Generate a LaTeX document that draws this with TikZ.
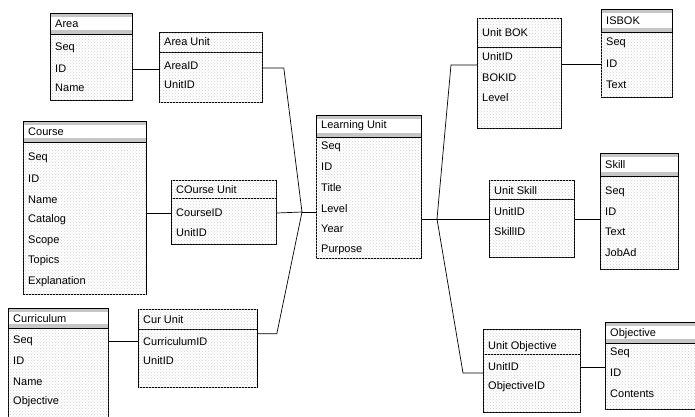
\documentclass[tikz,border=0pt]{standalone}
\usepackage{fontspec}
\setmainfont{Liberation Sans}
\usepackage{tikz}
\usetikzlibrary{calc, patterns}

\begin{document}
\begin{tikzpicture}[x=1pt,y=-1pt,font=\fontsize{11}{13}\selectfont]
  \tikzset{tbox/.style={draw,line width=0.8pt,anchor=north west,inner sep=0,
      fill=white,postaction={pattern=crosshatch dots,pattern color=gray!35}}}
  \tikzset{lhead/.style={tbox}}
  \tikzset{ehead/.style={draw,line width=0.8pt,anchor=north west,inner sep=0,fill=white,
      path picture={
        \fill[gray!45] (path picture bounding box.north west) rectangle ([yshift=-4pt]path picture bounding box.north east);
        \fill[gray!45] (path picture bounding box.south west) rectangle ([yshift=4pt]path picture bounding box.south east);}}}
  \tikzset{row/.style={anchor=west,inner sep=0}}
  \tikzset{link/.style={line width=0.7pt}}
  \useasboundingbox (0,0) rectangle (695,416);
  % Area
  \node[tbox,minimum width=82,minimum height=87] (area) at (50,13) {};
  \node[ehead,minimum width=82,minimum height=21] (area-h) at (50,13) {};
  \node[row] (area-t) at (55,24) {Area};
  \node[row] (area-seq) at (55,48) {Seq};
  \node[row] (area-id) at (55,69) {ID};
  \node[row] (area-name) at (55,88) {Name};
  % Area Unit
  \node[tbox,minimum width=103,minimum height=70] (areau) at (159,32) {};
  \node[lhead,minimum width=103,minimum height=20] (areau-h) at (159,32) {};
  \node[row] (areau-t) at (164,42) {Area Unit};
  \node[row] (areau-aid) at (164,66) {AreaID};
  \node[row] (areau-uid) at (164,85) {UnitID};
  % Course
  \node[tbox,minimum width=123,minimum height=173] (course) at (23,121) {};
  \node[ehead,minimum width=123,minimum height=21] (course-h) at (23,121) {};
  \node[row] (course-t) at (28,132) {Course};
  \node[row] (course-seq) at (28,158) {Seq};
  \node[row] (course-id) at (28,179) {ID};
  \node[row] (course-name) at (28,200) {Name};
  \node[row] (course-cat) at (28,220) {Catalog};
  \node[row] (course-scope) at (28,241) {Scope};
  \node[row] (course-top) at (28,261) {Topics};
  \node[row] (course-exp) at (28,282) {Explanation};
  % COurse Unit
  \node[tbox,minimum width=105,minimum height=64] (courseu) at (171,180) {};
  \node[lhead,minimum width=105,minimum height=18] (courseu-h) at (171,180) {};
  \node[row] (courseu-t) at (176,190) {COurse Unit};
  \node[row] (courseu-cid) at (176,213) {CourseID};
  \node[row] (courseu-uid) at (176,233) {UnitID};
  % Curriculum
  \node[tbox,minimum width=100,minimum height=120] (cur) at (8,308) {};
  \node[ehead,minimum width=100,minimum height=20] (cur-h) at (8,308) {};
  \node[row] (cur-t) at (13,319) {Curriculum};
  \node[row] (cur-seq) at (13,341) {Seq};
  \node[row] (cur-id) at (13,361) {ID};
  \node[row] (cur-name) at (13,382) {Name};
  \node[row] (cur-obj) at (13,402) {Objective};
  % Cur Unit
  \node[tbox,minimum width=119,minimum height=78] (curu) at (138,309) {};
  \node[lhead,minimum width=119,minimum height=20] (curu-h) at (138,309) {};
  \node[row] (curu-t) at (143,320) {Cur Unit};
  \node[row] (curu-cid) at (143,342) {CurriculumID};
  \node[row] (curu-uid) at (143,361) {UnitID};
  % Learning Unit
  \node[tbox,minimum width=105,minimum height=143] (lu) at (316,115) {};
  \node[ehead,minimum width=105,minimum height=22] (lu-h) at (316,115) {};
  \node[row] (lu-t) at (321,126) {Learning Unit};
  \node[row] (lu-seq) at (321,147) {Seq};
  \node[row] (lu-id) at (321,167) {ID};
  \node[row] (lu-title) at (321,188) {Title};
  \node[row] (lu-level) at (321,209) {Level};
  \node[row] (lu-year) at (321,229) {Year};
  \node[row] (lu-purp) at (321,250) {Purpose};
  % Unit BOK
  \node[tbox,minimum width=84,minimum height=110] (ubok) at (477,18) {};
  \node[lhead,minimum width=84,minimum height=29] (ubok-h) at (477,18) {};
  \node[row] (ubok-t) at (482,33) {Unit BOK};
  \node[row] (ubok-uid) at (482,57) {UnitID};
  \node[row] (ubok-bid) at (482,78) {BOKID};
  \node[row] (ubok-level) at (482,98) {Level};
  % ISBOK
  \node[tbox,minimum width=71,minimum height=88] (isbok) at (601,9) {};
  \node[ehead,minimum width=71,minimum height=23] (isbok-h) at (601,9) {};
  \node[row] (isbok-t) at (606,21) {ISBOK};
  \node[row] (isbok-seq) at (606,43) {Seq};
  \node[row] (isbok-id) at (606,64) {ID};
  \node[row] (isbok-text) at (606,85) {Text};
  % Unit Skill
  \node[tbox,minimum width=85,minimum height=77] (uskill) at (489,180) {};
  \node[lhead,minimum width=85,minimum height=19] (uskill-h) at (489,180) {};
  \node[row] (uskill-t) at (494,191) {Unit Skill};
  \node[row] (uskill-uid) at (494,212) {UnitID};
  \node[row] (uskill-sid) at (494,232) {SkillID};
  % Skill
  \node[tbox,minimum width=78,minimum height=116] (skill) at (600,153) {};
  \node[ehead,minimum width=78,minimum height=23] (skill-h) at (600,153) {};
  \node[row] (skill-t) at (605,165) {Skill};
  \node[row] (skill-seq) at (605,192) {Seq};
  \node[row] (skill-id) at (605,212) {ID};
  \node[row] (skill-text) at (605,232) {Text};
  \node[row] (skill-job) at (605,253) {JobAd};
  % Unit Objective
  \node[tbox,minimum width=97,minimum height=83] (uobj) at (483,329) {};
  \node[lhead,minimum width=97,minimum height=25] (uobj-h) at (483,329) {};
  \node[row] (uobj-t) at (488,347) {Unit Objective};
  \node[row] (uobj-uid) at (488,367) {UnitID};
  \node[row] (uobj-oid) at (488,387) {ObjectiveID};
  % Objective
  \node[tbox,minimum width=95,minimum height=87] (obj) at (605,322) {};
  \node[ehead,minimum width=95,minimum height=21] (obj-h) at (605,322) {};
  \node[row] (obj-t) at (610,334) {Objective};
  \node[row] (obj-seq) at (610,353) {Seq};
  \node[row] (obj-id) at (610,373) {ID};
  \node[row] (obj-cont) at (610,394) {Contents};
  % links
  \coordinate (ljoin) at (302,212);
  \coordinate (rjoin) at (437,219);
  \coordinate (bokbend) at (451,65);
  \coordinate (objbend) at (463,373);
  \draw[link] (area.east |- area-id) -- (areau.west |- area-id);
  \draw[link] (course.east |- courseu-cid) -- (courseu.west |- courseu-cid);
  \draw[link] (cur.east |- cur-seq) -- (curu.west |- cur-seq);
  \draw[link] ([yshift=-2pt]areau.east |- areau-aid) -- ++(21,0) -- (ljoin);
  \draw[link] (courseu.east |- courseu-cid) -- (ljoin);
  \draw[link] ([yshift=-4pt]curu-h.south east) -- ++(19,0) -- (ljoin);
  \draw[link] (ljoin) -- (lu.west |- ljoin);
  \draw[link] (lu.east |- rjoin) -- (rjoin);
  \draw[link] (rjoin) -- (bokbend) -- (ubok.west |- bokbend);
  \draw[link] (rjoin) -- (uskill.west |- rjoin);
  \draw[link] (rjoin) -- (objbend) -- (uobj.west |- objbend);
  \draw[link] (ubok.east |- isbok-id) -- (isbok.west |- isbok-id);
  \draw[link] (uskill.east |- rjoin) -- (skill.west |- rjoin);
  \draw[link] (uobj.east |- uobj-uid) -- (obj.west |- uobj-uid);
\end{tikzpicture}
\end{document}
